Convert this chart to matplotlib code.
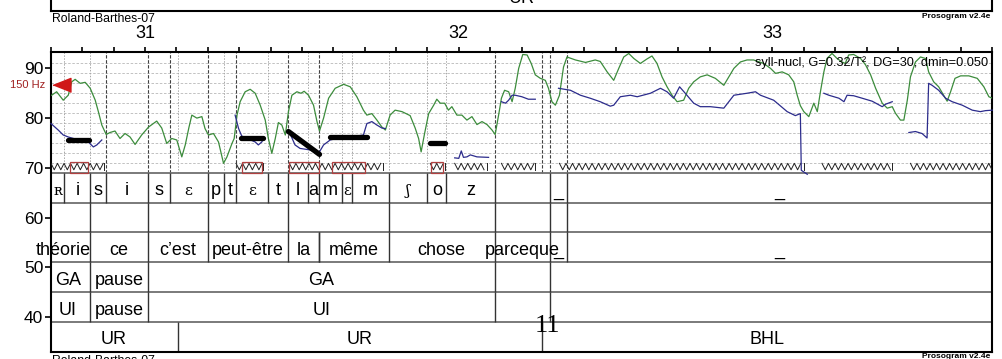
import numpy as np
import matplotlib
matplotlib.use("Agg")
import matplotlib.pyplot as plt
from matplotlib.patches import Rectangle

plt.rcParams["font.family"] = ["Liberation Sans", "DejaVu Sans"]

# time in s, pitch in semitones re 1 Hz
t_start, t_end = 30.70, 33.70
hz150_st = 12 * np.log2(150.0)

# intensity-like green contour
green_t = [30.702, 30.718, 30.739, 30.755, 30.766, 30.777, 30.793, 30.809, 30.825, 30.841,
           30.851, 30.862, 30.876, 30.888, 30.904, 30.920, 30.936, 30.952, 30.968, 30.989,
           31.011, 31.037, 31.053, 31.069, 31.085, 31.101, 31.117, 31.128, 31.140, 31.149,
           31.165, 31.181, 31.191, 31.202, 31.218, 31.234, 31.250, 31.261, 31.277, 31.284,
           31.293, 31.303, 31.319, 31.335, 31.351, 31.367, 31.383, 31.393, 31.404, 31.415,
           31.425, 31.436, 31.447, 31.457, 31.468, 31.484, 31.497, 31.507, 31.521, 31.537,
           31.548, 31.556, 31.569, 31.585, 31.606, 31.633, 31.654, 31.675, 31.696, 31.707,
           31.723, 31.739, 31.755, 31.766, 31.781, 31.797, 31.819, 31.845, 31.861, 31.872,
           31.880, 31.891, 31.904, 31.920, 31.930, 31.941, 31.955, 31.967, 31.978, 31.994,
           32.010, 32.026, 32.042, 32.058, 32.074, 32.090, 32.106, 32.116, 32.127, 32.136,
           32.146, 32.159, 32.170, 32.180, 32.191, 32.204, 32.218, 32.231, 32.244, 32.260,
           32.276, 32.286, 32.297, 32.308, 32.321, 32.334, 32.345, 32.372, 32.404, 32.435,
           32.451, 32.473, 32.494, 32.510, 32.526, 32.542, 32.558, 32.579, 32.600, 32.616,
           32.632, 32.648, 32.664, 32.680, 32.696, 32.717, 32.733, 32.749, 32.770, 32.792,
           32.818, 32.845, 32.861, 32.877, 32.898, 32.919, 32.940, 32.972, 32.994, 33.010,
           33.031, 33.052, 33.068, 33.079, 33.089, 33.100, 33.116, 33.132, 33.143, 33.153,
           33.164, 33.174, 33.190, 33.206, 33.222, 33.232, 33.243, 33.259, 33.281, 33.297,
           33.313, 33.329, 33.350, 33.366, 33.382, 33.392, 33.408, 33.419, 33.430, 33.440,
           33.456, 33.472, 33.488, 33.498, 33.514, 33.530, 33.546, 33.557, 33.568, 33.582,
           33.600, 33.626, 33.653, 33.674, 33.690, 33.701]
green_st = [84.6, 85.3, 83.6, 84.6, 87.3, 87.8, 87.0, 87.2, 86.0, 83.6,
            81.3, 78.6, 76.7, 77.1, 77.4, 75.9, 76.9, 76.2, 74.7, 76.6,
            78.2, 79.4, 78.0, 74.9, 75.9, 75.6, 72.2, 74.6, 78.2, 80.6,
            80.0, 80.3, 77.9, 76.6, 76.9, 75.2, 70.9, 72.2, 74.9, 75.9,
            80.6, 83.3, 85.3, 85.8, 85.0, 82.6, 79.6, 75.9, 72.9, 75.9,
            79.1, 78.6, 76.6, 81.3, 84.6, 85.3, 85.0, 85.4, 84.6, 82.6,
            79.3, 77.4, 80.0, 84.0, 86.0, 86.8, 86.3, 84.3, 81.6, 80.6,
            80.9, 79.6, 78.2, 77.6, 80.6, 81.6, 81.3, 80.5, 78.0, 75.9,
            73.2, 76.9, 80.9, 82.6, 83.8, 83.0, 83.0, 81.6, 82.3, 80.6,
            80.6, 79.6, 80.3, 78.7, 79.3, 78.7, 77.6, 76.7, 80.6, 84.0,
            85.6, 85.3, 83.3, 86.0, 90.0, 92.8, 92.7, 91.0, 88.7, 88.0,
            87.6, 86.0, 83.3, 82.6, 84.6, 90.3, 92.3, 91.7, 91.2, 91.7,
            91.4, 89.3, 87.6, 90.0, 92.3, 93.0, 92.0, 91.0, 91.9, 92.5,
            91.0, 88.3, 86.3, 84.6, 83.3, 83.6, 86.0, 87.3, 88.3, 88.7,
            88.0, 86.6, 88.3, 90.0, 91.3, 91.7, 91.7, 91.0, 90.0, 89.0,
            89.3, 88.7, 87.3, 84.6, 82.5, 81.3, 80.3, 83.0, 81.3, 85.3,
            89.3, 92.0, 93.0, 92.0, 91.3, 91.0, 92.7, 92.8, 92.0, 90.7,
            88.7, 86.0, 83.0, 82.0, 82.3, 81.0, 79.6, 79.6, 83.6, 88.3,
            91.3, 92.3, 92.0, 89.3, 87.3, 86.3, 84.6, 83.4, 85.3, 88.0,
            88.5, 88.5, 88.0, 86.3, 84.3, 84.0]

# F0 (blue), by voiced stretch
f0_1_t = [30.700, 30.723, 30.739, 30.755, 30.777, 30.799, 30.819, 30.835, 30.846, 30.862]
f0_1_st = [78.9, 77.6, 76.6, 76.2, 75.8, 75.6, 75.2, 74.2, 74.6, 75.6]
f0_2_t = [31.287, 31.298, 31.308, 31.329, 31.351, 31.361, 31.372, 31.377]
f0_2_st = [80.6, 77.9, 76.4, 75.8, 75.2, 74.6, 75.2, 75.8]
f0_3_t = [31.457, 31.478, 31.494, 31.526, 31.553, 31.569, 31.590, 31.612, 31.654, 31.696,
          31.707, 31.723, 31.739, 31.755, 31.766]
f0_3_st = [77.6, 74.6, 73.9, 73.6, 72.9, 74.6, 75.6, 75.9, 76.2, 76.6,
           78.9, 79.3, 78.6, 78.0, 77.9]
f0_4_t = [31.987, 32.000, 32.008, 32.015, 32.026, 32.037, 32.058, 32.095]
f0_4_st = [72.0, 71.9, 73.4, 72.1, 72.2, 72.6, 72.2, 72.1]
f0_5_t = [32.136, 32.149, 32.159, 32.170, 32.180, 32.201, 32.222, 32.244]
f0_5_st = [83.3, 83.0, 83.6, 84.6, 84.6, 84.3, 83.8, 83.8]
f0_6_t = [32.318, 32.356, 32.388, 32.419, 32.451, 32.483, 32.494, 32.515, 32.547, 32.569,
          32.611, 32.643, 32.664, 32.685, 32.704, 32.722, 32.749, 32.770, 32.802, 32.845,
          32.861, 32.877, 32.919, 32.946, 32.962, 33.004, 33.047, 33.073, 33.089, 33.092,
          33.111]
f0_6_st = [86.0, 85.6, 84.6, 84.0, 83.3, 82.4, 82.6, 84.3, 84.6, 84.3,
           85.0, 86.0, 85.3, 84.0, 86.3, 85.0, 83.0, 82.3, 82.3, 82.0,
           83.3, 84.6, 85.0, 85.3, 84.6, 83.6, 81.3, 80.5, 80.9, 69.5,
           68.7]
f0_7_t = [33.164, 33.180, 33.212, 33.228, 33.238, 33.259, 33.286, 33.318, 33.350, 33.361, 33.382]
f0_7_st = [85.0, 84.6, 84.0, 83.3, 84.6, 84.5, 84.0, 83.4, 82.3, 82.8, 83.3]
f0_8_t = [33.435, 33.456, 33.477, 33.493, 33.498, 33.509, 33.530, 33.552, 33.573, 33.605,
          33.637, 33.663, 33.679, 33.701]
f0_8_st = [77.1, 77.3, 76.9, 76.0, 87.0, 86.6, 85.6, 84.0, 83.3, 82.6,
           81.6, 81.3, 81.5, 81.6]

# stylized nuclei (black)
styl_t0 = [30.755, 31.306, 31.457, 31.590, 31.909]
styl_t1 = [30.822, 31.377, 31.556, 31.707, 31.957]
styl_st0 = [75.5, 75.9, 77.3, 76.2, 74.9]
styl_st1 = [75.5, 75.9, 72.7, 76.2, 74.9]

# nucleus boxes and voiced stretches
nucl_t0 = [30.759, 31.310, 31.460, 31.596, 31.912]
nucl_t1 = [30.819, 31.372, 31.553, 31.702, 31.951]
voiced_t0 = [30.700, 31.290, 31.460, 31.909, 31.987, 32.136, 32.321, 33.158, 33.440]
voiced_t1 = [30.870, 31.375, 31.760, 31.955, 32.090, 32.244, 33.100, 33.382, 33.701]

# vertical segmentation lines in the pitch panel
syll_lines = [30.876, 31.009, 31.078, 31.199, 31.289, 31.454, 31.555, 32.114, 32.265, 32.290, 32.345]
phone_lines = [30.743, 30.825, 31.104, 31.253, 31.393, 31.518, 31.629, 31.659, 31.776, 31.900, 31.960]

# annotation tiers
phone_b = [30.700, 30.743, 30.825, 30.876, 31.009, 31.078, 31.199, 31.253, 31.289, 31.393, 31.454,
           31.518, 31.555, 31.629, 31.659, 31.776, 31.900, 31.960, 32.114, 32.290, 32.345, 33.700]
phone_lab = ["ʀ", "i", "s", "i", "s", "ɛ", "p", "t", "ɛ", "t", "l", "a", "m", "ɛ", "m", "ʃ", "o",
             "z", "", "_", "_"]
syl_b = [30.825, 31.009, 31.199, 31.454, 31.776, 32.114, 32.290, 32.345]
word_b = [30.652, 30.825, 31.009, 31.199, 31.454, 31.555, 31.776, 32.114, 32.290, 32.345, 33.700]
word_lab = ["théorie", "ce", "c’est", "peut-être", "la", "même", "chose", "parceque", "_", "_"]
ga_b = [30.684, 30.825, 31.009, 32.114, 32.290, 33.700]
ga_lab = ["GA", "pause", "GA", "", ""]
ui_b = [30.684, 30.825, 31.009, 32.114, 32.290, 33.700]
ui_lab = ["UI", "pause", "UI", "", ""]
ur_b = [30.698, 31.104, 32.265, 33.700]
ur_lab = ["UR", "UR", "BHL"]

row_edges = [69, 63, 57, 51, 45, 39, 33]
grid_levels = list(range(71, 93, 2))

fig = plt.figure(figsize=(10.03, 3.59), dpi=100)
ax = fig.add_axes([51 / 1003, 7.3 / 359, 941 / 1003, 299.7 / 359])
ax.set_xlim(t_start, t_end)
ax.set_ylim(33.0, 93.3)

# grid
ax.hlines(grid_levels, t_start, t_end, colors="#b8b8b8", linestyles=(0, (3, 2)), lw=0.6, zorder=1)
ax.vlines(phone_lines, 69, 93.3, colors="#a8a8a8", linestyles=(0, (1.5, 1.5)), lw=0.7, zorder=1)
ax.vlines(syll_lines, 69, 93.3, colors="#404040", linestyles=(0, (3, 1.5)), lw=0.8, zorder=1)

# curves
ax.plot(green_t, green_st, color="#3c8c3c", lw=0.9, zorder=3)
for tt, ss in [(f0_1_t, f0_1_st), (f0_2_t, f0_2_st), (f0_3_t, f0_3_st), (f0_4_t, f0_4_st),
               (f0_5_t, f0_5_st), (f0_6_t, f0_6_st), (f0_7_t, f0_7_st), (f0_8_t, f0_8_st)]:
    ax.plot(tt, ss, color="#2c2c8c", lw=0.9, zorder=4, clip_on=False)
for a, b, s0, s1 in zip(styl_t0, styl_t1, styl_st0, styl_st1):
    ax.plot([a, b], [s0, s1], color="black", lw=3.8, solid_capstyle="round", zorder=5)

# voicing zigzag and nucleus boxes
half = 0.0104
for a, b in zip(voiced_t0, voiced_t1):
    xs = np.arange(a, b, half)
    ys = np.where(np.arange(len(xs)) % 2 == 0, 70.9, 69.6)
    ax.plot(xs, ys, color="#202020", lw=0.7, zorder=3)
    ax.plot([b, b], [69.6, 70.9], color="#202020", lw=0.7, zorder=3)
for a, b in zip(nucl_t0, nucl_t1):
    ax.add_patch(Rectangle((a, 69.0), b - a, 2.2, fill=False, edgecolor="#b04040", lw=0.9, zorder=4))

# tier rows
for y in row_edges[:-1]:
    ax.axhline(y, color="#707070", lw=1.3, zorder=2)


def draw_tier(bounds, labels, row, lines=True):
    y0, y1 = row_edges[row + 1], row_edges[row]
    if lines:
        inner = [b for b in bounds if t_start < b < t_end]
        ax.vlines(inner, y0, y1, colors="#333333", lw=1.0, zorder=2)
    if labels is None:
        return
    for a, b, lab in zip(bounds[:-1], bounds[1:], labels):
        if not lab:
            continue
        if lab in ("ʀ", "ɛ", "ʃ"):
            ax.text((a + b) / 2, y0 + 1.45, lab, ha="center", va="baseline", fontsize=11,
                    family="DejaVu Serif", clip_on=False)
        else:
            ax.text((a + b) / 2, y0 + 1.45, lab, ha="center", va="baseline", fontsize=13,
                    clip_on=False)


draw_tier(phone_b, phone_lab, 0)
draw_tier(syl_b, None, 1)
draw_tier(word_b, word_lab, 2)
ax.vlines([31.555], 51, 57, colors="#333333", lw=1.0, zorder=2)
draw_tier(ga_b, ga_lab, 3)
draw_tier(ui_b, ui_lab, 4)
draw_tier(ur_b, ur_lab, 5)

ax.text(32.283, 37.0, "11", ha="center", va="baseline", fontsize=19, family="Liberation Serif")
ax.text(33.689, 90.5, "syll-nucl, G=0.32/T², DG=30, dmin=0.050", ha="right", va="baseline",
        fontsize=9.2, zorder=6)

# 150 Hz reference
ax.plot([30.739], [hz150_st], marker=[(-1.4, 0), (1, 0.95), (1, -0.95)], ms=15,
        color="#d01818", clip_on=False, zorder=7)
ax.text(-0.0065, hz150_st, "150 Hz", transform=ax.get_yaxis_transform(), ha="right",
        va="center", fontsize=8, color="#a02020")

# axes
ticks = np.round(np.arange(30.7, 33.71, 0.1), 1)
ax.set_xticks(ticks)
ax.set_xticklabels([str(int(round(t))) if abs(t - round(t)) < 1e-6 else "" for t in ticks])
ax.xaxis.set_ticks_position("top")
ax.tick_params(axis="x", direction="out", length=3.6, width=1.2, pad=3.5, labelsize=13)
ax.set_yticks([40, 50, 60, 70, 80, 90])
ax.tick_params(axis="y", direction="out", length=4.3, width=1.2, pad=1.2, labelsize=12.5)
for sp in ax.spines.values():
    sp.set_linewidth(1.5)

# bottom of the previous strip
axtop = fig.add_axes([51 / 1003, (359 - 10.7) / 359, 941 / 1003, 0.1])
axtop.set_xticks([])
axtop.set_yticks([])
for sp in axtop.spines.values():
    sp.set_linewidth(1.5)
fig.text(521.7 / 1003, (359 - 3.3) / 359, "UR", ha="center", va="baseline", fontsize=13)

fig.text(52 / 1003, 1 - 19.5 / 359, "Roland-Barthes-07", ha="left", va="center", fontsize=8.8)
fig.text(990 / 1003, 1 - 16.3 / 359, "Prosogram v2.4e", ha="right", va="center", fontsize=6,
         fontweight="bold")
fig.text(52 / 1003, -2 / 359, "Roland-Barthes-07", ha="left", va="center", fontsize=8.8)
fig.text(990 / 1003, 3 / 359, "Prosogram v2.4e", ha="right", va="center", fontsize=6,
         fontweight="bold")

fig.savefig("out.png", dpi=100)
